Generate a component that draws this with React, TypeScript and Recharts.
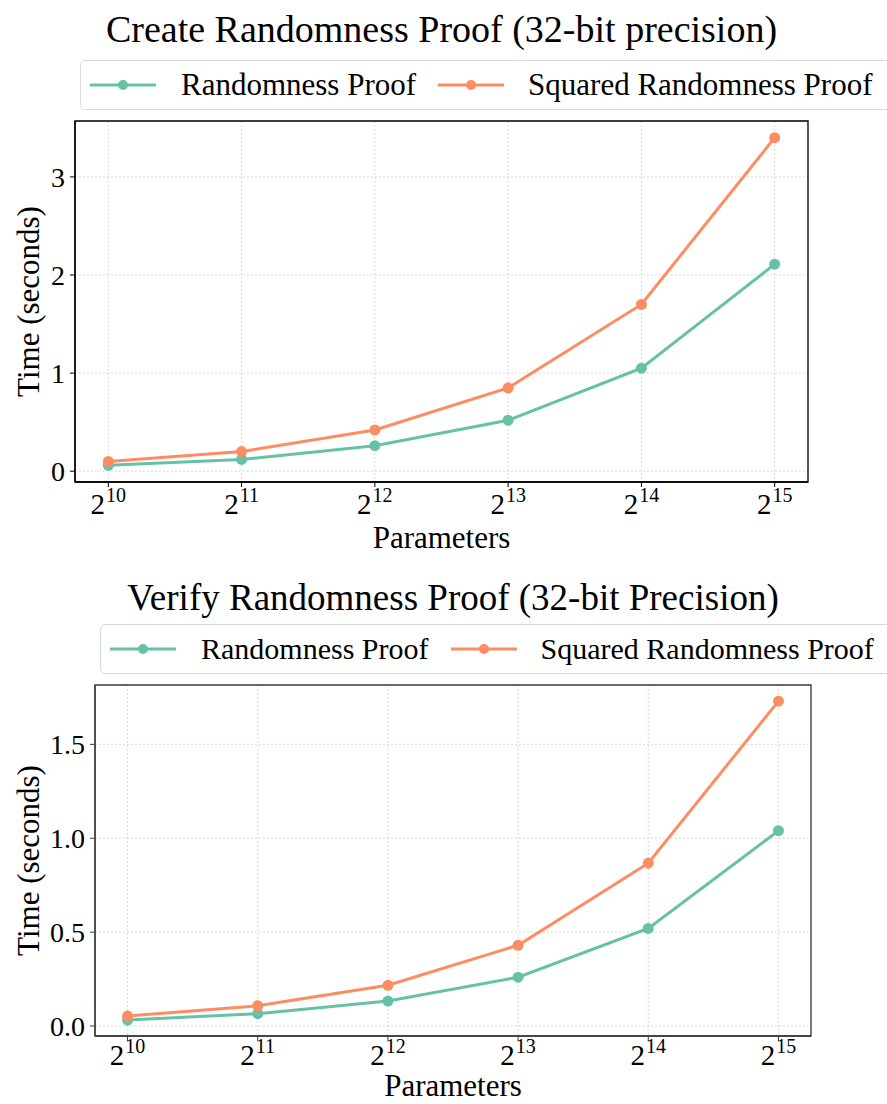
import React from 'react';
import { LineChart, Line, XAxis, YAxis, CartesianGrid, ReferenceArea } from 'recharts';

const exponents = [10, 11, 12, 13, 14, 15];

const createRandomness = [0.06, 0.12, 0.26, 0.52, 1.05, 2.11];
const createSquared = [0.1, 0.2, 0.42, 0.85, 1.7, 3.4];

const verifyRandomness = [0.032, 0.066, 0.133, 0.26, 0.52, 1.04];
const verifySquared = [0.053, 0.108, 0.217, 0.43, 0.867, 1.73];

const createTicks = [0, 1, 2, 3];
const verifyTicks = [0, 0.5, 1.0, 1.5];

const GREEN = '#66c2a5';
const ORANGE = '#fc8d62';
const FONT = '"Liberation Serif", "DejaVu Serif", serif';

const PowerTick = ({ x, y, payload, drop }: any) => (
  <text x={x} y={y + drop} textAnchor="middle" fontFamily={FONT} fill="#000">
    <tspan fontSize={29}>2</tspan>
    <tspan fontSize={20} dx={1} dy={-12}>{payload.value}</tspan>
  </text>
);

function LegendBox({ left, top, fontSize }: { left: number; top: number; fontSize: number }) {
  const sample = (color: string) => (
    <svg width={66} height={12} style={{ display: 'block' }}>
      <line x1={0} y1={6} x2={66} y2={6} stroke={color} strokeWidth={3} />
      <circle cx={33} cy={6} r={5} fill={color} />
    </svg>
  );
  return (
    <div
      style={{
        position: 'absolute',
        left,
        top,
        width: 830,
        height: 50,
        border: '1.5px solid #d9d9d9',
        borderRadius: 5,
        background: '#fff',
        display: 'flex',
        alignItems: 'center',
        paddingLeft: 9,
        fontFamily: FONT,
        fontSize,
        color: '#000',
        whiteSpace: 'nowrap',
        boxSizing: 'border-box',
      }}
    >
      {sample(GREEN)}
      <span style={{ marginLeft: 25 }}>Randomness Proof</span>
      <span style={{ marginLeft: 22 }}>{sample(ORANGE)}</span>
      <span style={{ marginLeft: 24 }}>Squared Randomness Proof</span>
    </div>
  );
}

interface PanelProps {
  title: string;
  titleSize: number;
  top: number;
  height: number;
  plotLeft: number;
  plotRight: number;
  plotTop: number;
  plotBottom: number;
  titleBaseline: number;
  labelBaseline: number;
  tickDrop: number;
  randomness: number[];
  squared: number[];
  yDomain: [number, number];
  yTicks: number[];
  yFormat: (v: number) => string;
  frame: string;
}

function Panel(p: PanelProps) {
  const data = exponents.map((e, i) => ({ exp: e, rand: p.randomness[i], sq: p.squared[i] }));
  const xAxisHeight = 60;
  const margin = {
    top: p.plotTop,
    right: 887 - p.plotRight,
    bottom: p.height - p.plotBottom - xAxisHeight,
    left: 0,
  };
  const cx = (p.plotLeft + p.plotRight) / 2;
  const cy = (p.plotTop + p.plotBottom) / 2;
  return (
    <div style={{ position: 'absolute', left: 0, top: p.top, width: 887, height: p.height }}>
      <LineChart width={887} height={p.height} data={data} margin={margin}>
        <CartesianGrid stroke="#cfcfcf" strokeDasharray="1.5 2.5" strokeWidth={1} />
        <XAxis
          dataKey="exp"
          type="number"
          domain={[9.75, 15.25]}
          ticks={exponents}
          allowDataOverflow
          height={xAxisHeight}
          axisLine={{ stroke: p.frame, strokeWidth: 1.3 }}
          tickLine={{ stroke: p.frame }}
          tickSize={5}
          tickMargin={0}
          tick={<PowerTick drop={p.tickDrop} />}
        />
        <YAxis
          type="number"
          domain={p.yDomain}
          ticks={p.yTicks}
          allowDataOverflow
          width={p.plotLeft}
          axisLine={{ stroke: p.frame, strokeWidth: 1.3 }}
          tickLine={{ stroke: p.frame }}
          tickSize={5}
          tickMargin={5}
          tickFormatter={p.yFormat}
          tick={{ fontSize: 28, fill: '#000', fontFamily: FONT }}
        />
        <ReferenceArea
          x1={9.75}
          x2={15.25}
          y1={p.yDomain[0]}
          y2={p.yDomain[1]}
          fill="none"
          stroke={p.frame}
          strokeWidth={1.3}
          ifOverflow="visible"
        />
        <Line
          type="linear"
          dataKey="rand"
          name="Randomness Proof"
          stroke={GREEN}
          strokeWidth={3}
          dot={{ r: 5.5, fill: GREEN, stroke: GREEN, strokeWidth: 0 }}
          isAnimationActive={false}
        />
        <Line
          type="linear"
          dataKey="sq"
          name="Squared Randomness Proof"
          stroke={ORANGE}
          strokeWidth={3}
          dot={{ r: 5.5, fill: ORANGE, stroke: ORANGE, strokeWidth: 0 }}
          isAnimationActive={false}
        />
        <text x={cx} y={p.titleBaseline} textAnchor="middle" fontFamily={FONT} fontSize={p.titleSize} fill="#000">
          {p.title}
        </text>
        <text x={cx} y={p.labelBaseline} textAnchor="middle" fontFamily={FONT} fontSize={31} fill="#000">
          Parameters
        </text>
        <text
          x={28}
          y={cy}
          textAnchor="middle"
          dominantBaseline="central"
          transform={`rotate(-90 28 ${cy})`}
          fontFamily={FONT}
          fontSize={31}
          fill="#000"
        >
          Time (seconds)
        </text>
      </LineChart>
    </div>
  );
}

export default function App() {
  return (
    <div
      style={{
        position: 'absolute',
        left: 0,
        top: 0,
        width: 887,
        height: 1104,
        background: '#fff',
        overflow: 'hidden',
      }}
    >
      <Panel
        title="Create Randomness Proof (32-bit precision)"
        titleSize={38}
        top={0}
        height={560}
        plotLeft={75}
        plotRight={808}
        plotTop={121}
        plotBottom={482}
        titleBaseline={42}
        labelBaseline={548}
        tickDrop={27}
        randomness={createRandomness}
        squared={createSquared}
        yDomain={[-0.11, 3.57]}
        yTicks={createTicks}
        yFormat={(v) => String(v)}
        frame="#000"
      />
      <LegendBox left={80} top={60} fontSize={31} />
      <Panel
        title="Verify Randomness Proof (32-bit Precision)"
        titleSize={37}
        top={560}
        height={544}
        plotLeft={95}
        plotRight={811}
        plotTop={125}
        plotBottom={476}
        titleBaseline={50}
        labelBaseline={536}
        tickDrop={24}
        randomness={verifyRandomness}
        squared={verifySquared}
        yDomain={[-0.053, 1.816]}
        yTicks={verifyTicks}
        yFormat={(v) => v.toFixed(1)}
        frame="#3a3a3a"
      />
      <LegendBox left={100} top={624} fontSize={30} />
    </div>
  );
}
